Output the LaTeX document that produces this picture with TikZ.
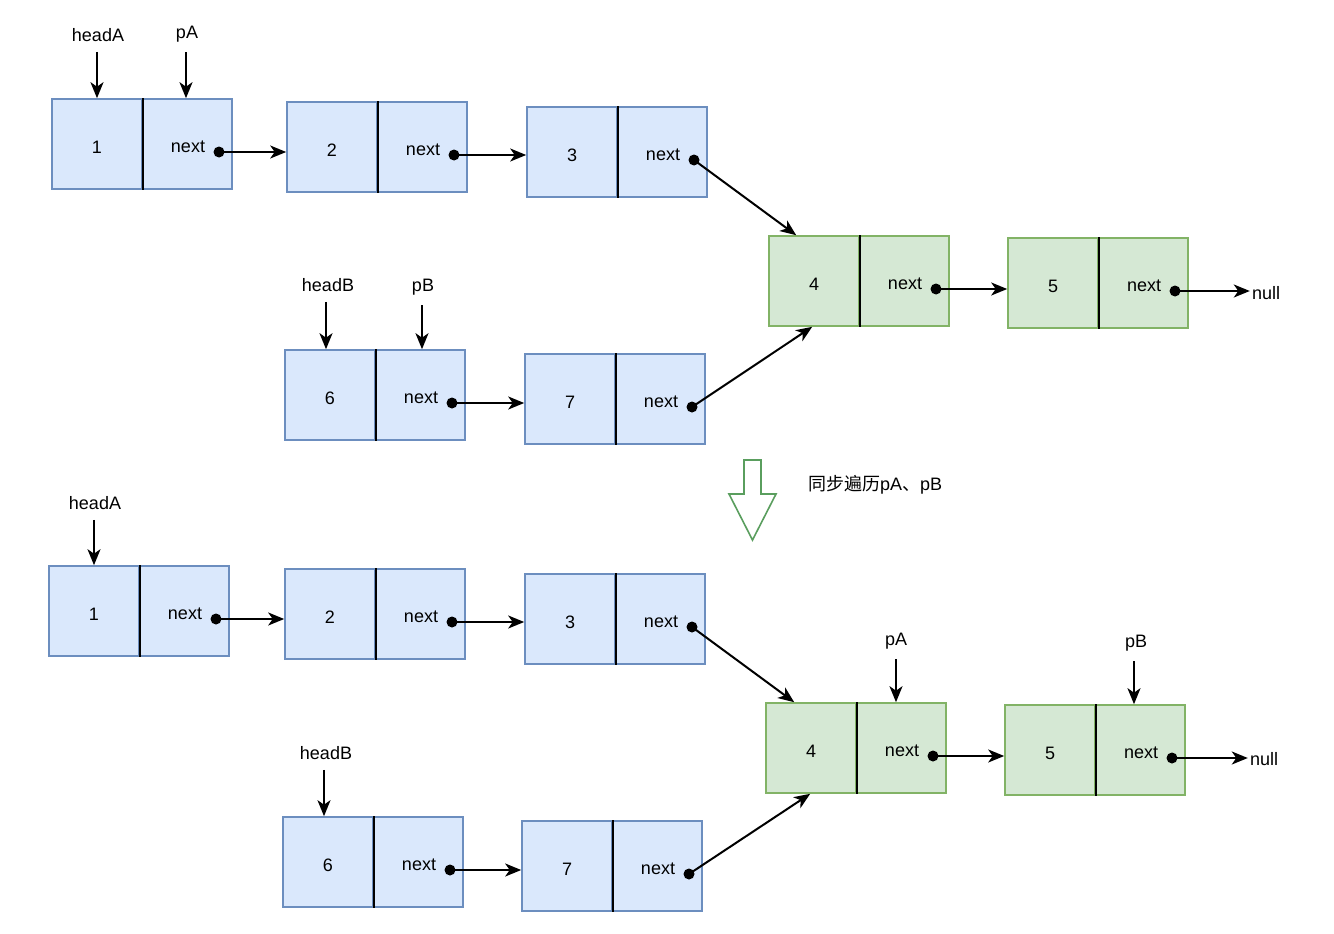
\documentclass[tikz,border=0pt]{standalone}
\usepackage{fontspec}
\setmainfont{Liberation Sans}
\newfontfamily\cjkfont{Noto Sans CJK SC}
\usetikzlibrary{arrows.meta,calc}
\definecolor{bluefill}{HTML}{DAE8FC}
\definecolor{bluedraw}{HTML}{6C8EBF}
\definecolor{greenfill}{HTML}{D5E8D4}
\definecolor{greendraw}{HTML}{82B366}
\definecolor{arrowgreen}{HTML}{5A9E5E}
\tikzset{
  cellblue/.style={rectangle, minimum width=90pt, minimum height=90pt, inner sep=0pt,
    draw=bluedraw, fill=bluefill, line width=1.6pt},
  cellgreen/.style={rectangle, minimum width=90pt, minimum height=90pt, inner sep=0pt,
    draw=greendraw, fill=greenfill, line width=1.6pt},
  divider/.style={draw=black, line width=1.6pt},
  dotnode/.style={circle, fill=black, inner sep=0pt, minimum size=11pt},
  link/.style={line width=2pt, -{Stealth[length=16pt,width=13pt,inset=4.5pt]}},
  lbl/.style={inner sep=0pt, font=\fontsize{18}{21}\selectfont}
}
\newcommand\mklnode[5]{%
  \node[#5] (#1v) at (#2+45,#3+45) {};
  \node[#5] (#1n) at (#2+135,#3+45) {};
  \node[lbl] (#1vt) at (#2+45,#3+48) {#4};
  \node[lbl] (#1nt) at (#2+136,#3+48) {next};
  \draw[divider] (#1v.north east) -- (#1v.south east);
  \node[dotnode] (#1d) at (#2+167,#3+53) {};
}
\begin{document}
\begin{tikzpicture}[x=1pt,y=-1pt]
\useasboundingbox[fill=white] (0,0) rectangle (1334,934);
% ---------- top ----------
\mklnode{a1}{52}{99}{1}{cellblue}
\mklnode{a2}{287}{102}{2}{cellblue}
\mklnode{a3}{527}{107}{3}{cellblue}
\mklnode{a4}{769}{236}{4}{cellgreen}
\mklnode{a5}{1008}{238}{5}{cellgreen}
\mklnode{a6}{285}{350}{6}{cellblue}
\mklnode{a7}{525}{354}{7}{cellblue}
\node[lbl] (aheadA) at (98,35) {headA};
\node[lbl] (apA) at (187,34) {pA};
\node[lbl] (aheadB) at (328,285) {headB};
\node[lbl] (apB) at (423,287) {pB};
\node[lbl] (anull) at (1266,293) {null};
\draw[link] ([yshift=-10pt]aheadA.south -| 97,0) -- (97,0 |- a1v.north);
\draw[link] ([yshift=-10pt]apA.south -| 186,0) -- (186,0 |- a1n.north);
\draw[link] ([yshift=-10pt]aheadB.south -| 326,0) -- (326,0 |- a6v.north);
\draw[link] ([yshift=-10pt]apB.south -| 422,0) -- (422,0 |- a6n.north);
\draw[link] (a1d.center) -- (a1d.center -| a2v.west);
\draw[link] (a2d.center) -- (a2d.center -| a3v.west);
\draw[link] (a3d.center) -- ($(a4v.north west)+(28,0)$);
\draw[link] (a4d.center) -- (a4d.center -| a5v.west);
\draw[link] (a5d.center) -- ([xshift=-2pt]anull.west |- a5d.center);
\draw[link] (a6d.center) -- (a6d.center -| a7v.west);
\draw[link] (a7d.center) -- ($(a4v.south west)+(44,0)$);
% ---------- middle ----------
\draw[draw=arrowgreen, line width=1.6pt, fill=white, line join=miter]
  (744,460) coordinate (bigarrow) -- (761,460) -- (761,494) -- (776,494) -- (752.5,540)
  -- (729,494) -- (744,494) -- cycle;
\node[lbl, anchor=west] (caption) at (808,485) {{\cjkfont 同步遍历}pA{\cjkfont 、}pB};
% ---------- bottom ----------
\mklnode{b1}{49}{566}{1}{cellblue}
\mklnode{b2}{285}{569}{2}{cellblue}
\mklnode{b3}{525}{574}{3}{cellblue}
\mklnode{b4}{766}{703}{4}{cellgreen}
\mklnode{b5}{1005}{705}{5}{cellgreen}
\mklnode{b6}{283}{817}{6}{cellblue}
\mklnode{b7}{522}{821}{7}{cellblue}
\node[lbl] (bheadA) at (95,503) {headA};
\node[lbl] (bheadB) at (326,753) {headB};
\node[lbl] (bpA) at (896,641) {pA};
\node[lbl] (bpB) at (1136,643) {pB};
\node[lbl] (bnull) at (1264,759) {null};
\draw[link] ([yshift=-10pt]bheadA.south -| 94,0) -- (94,0 |- b1v.north);
\draw[link] ([yshift=-10pt]bheadB.south -| 324,0) -- (324,0 |- b6v.north);
\draw[link] ([yshift=-10pt]bpA.south -| 896,0) -- (896,0 |- b4n.north);
\draw[link] ([yshift=-10pt]bpB.south -| 1134,0) -- (1134,0 |- b5n.north);
\draw[link] (b1d.center) -- (b1d.center -| b2v.west);
\draw[link] (b2d.center) -- (b2d.center -| b3v.west);
\draw[link] (b3d.center) -- ($(b4v.north west)+(29,0)$);
\draw[link] (b4d.center) -- (b4d.center -| b5v.west);
\draw[link] (b5d.center) -- ([xshift=-2pt]bnull.west |- b5d.center);
\draw[link] (b6d.center) -- (b6d.center -| b7v.west);
\draw[link] (b7d.center) -- ($(b4v.south west)+(45,0)$);
\end{tikzpicture}
\end{document}
